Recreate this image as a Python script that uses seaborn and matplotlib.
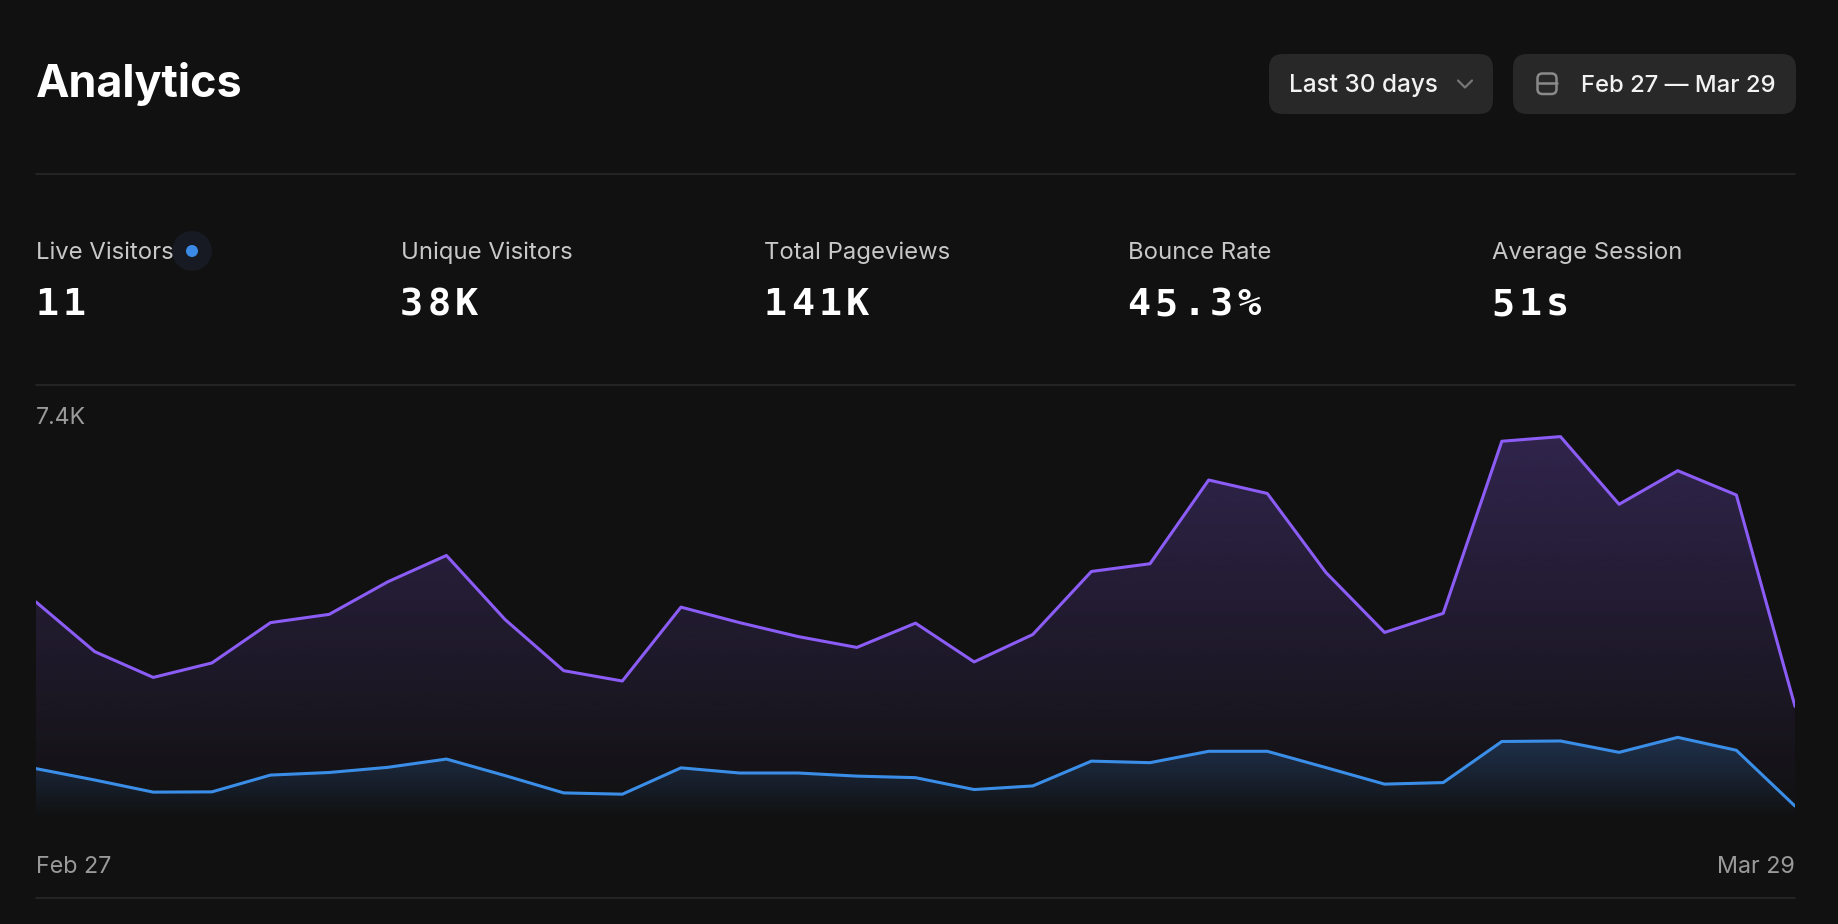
import numpy as np
import pandas as pd
import matplotlib.pyplot as plt
import seaborn as sns
from matplotlib.patches import FancyBboxPatch, Circle
from matplotlib.colors import to_rgb

# Data
dates = pd.date_range("2025-02-27", "2025-03-29", freq="D")
pageviews = [4200, 3240, 2740, 3020, 3800, 3960, 4590, 5100, 3860, 2870,
             2670, 4100, 3800, 3530, 3320, 3790, 3040, 3570, 4790, 4940,
             6560, 6300, 4770, 3610, 3980, 7310, 7400, 6090, 6740, 6270, 2180]
visitors = [975, 755, 520, 525, 850, 900, 1000, 1160, 840, 505,
            480, 990, 890, 890, 830, 800, 570, 640, 1120, 1090,
            1310, 1310, 995, 675, 705, 1500, 1510, 1290, 1580, 1330, 250]

stat_labels = ["Live Visitors", "Unique Visitors", "Total Pageviews", "Bounce Rate", "Average Session"]
stat_values = ["11", "38K", "141K", "45.3%", "51s"]
range_label = "Last 30 days"

# Styling
BG = "#111111"
PURPLE = "#8b5cf6"
BLUE = "#3b8ee8"
W, H = 1838, 924

sns.set_theme(style="dark")
plt.rcParams["font.family"] = ["Inter", "DejaVu Sans"]

df = pd.DataFrame({
    "day": np.tile(np.arange(len(dates)), 2),
    "value": pageviews + visitors,
    "series": ["Pageviews"] * len(dates) + ["Visitors"] * len(dates),
})


def gradient_fill(ax, x, y, color, top_alpha, zorder):
    """Fill under a line with a vertical fade to transparent."""
    poly = ax.fill_between(x, y, 0, facecolor="none", edgecolor="none")
    img = np.zeros((256, 1, 4))
    img[..., :3] = to_rgb(color)
    img[..., 3] = np.linspace(0, top_alpha, 256)[:, None]
    im = ax.imshow(img, aspect="auto", origin="lower", zorder=zorder,
                   extent=[x[0], x[-1], 0, max(y)], interpolation="bilinear")
    im.set_clip_path(poly.get_paths()[0], ax.transData)


def mono_text(ax, x, y, s, cell, **kw):
    """KPI value in a wide monospace: every glyph centred in a fixed cell."""
    for i, ch in enumerate(s):
        ax.text(x + (i + 0.5) * cell, y, ch, ha="center", va="baseline", **kw)


fig = plt.figure(figsize=(W / 100, H / 100), dpi=100, facecolor=BG)

# pixel-space overlay for the dashboard chrome
ui = fig.add_axes([0, 0, 1, 1])
ui.set_xlim(0, W)
ui.set_ylim(H, 0)
ui.axis("off")
ui.set_facecolor(BG)

ui.text(36, 96.7, "Analytics", size=32.3, weight="bold", color="white", va="baseline")

# range selector buttons
for x0, x1 in [(1269, 1493), (1513, 1796)]:
    ui.add_patch(FancyBboxPatch((x0, 54), x1 - x0, 60, boxstyle="round,pad=0,rounding_size=14",
                                facecolor="#282828", edgecolor="none"))
ui.text(1289, 92.3, range_label, size=17.5, weight="medium", color="#f2f2f2", va="baseline")
ui.plot([1458, 1465, 1472], [80.5, 87.5, 80.5], color="#777777", lw=1.6, solid_capstyle="round")
ui.add_patch(FancyBboxPatch((1537.5, 73.5), 19, 20.5, boxstyle="round,pad=0,rounding_size=5",
                            facecolor="none", edgecolor="#8a8a8a", lw=1.8))
ui.plot([1537.5, 1556.5], [82.5, 82.5], color="#8a8a8a", lw=1.8)
ui.text(1581, 92.3, f"{dates[0]:%b} {dates[0].day} \u2014 {dates[-1]:%b} {dates[-1].day}",
        size=17.2, weight="medium", color="#f2f2f2", va="baseline")

# divider lines
for yy in [173.5, 384.5, 897.7]:
    ui.plot([36, 1795], [yy, yy], color="#2a2a2a", lw=1.1)

# KPI row
for xx, lab, val in zip([36, 401, 764, 1128, 1492], stat_labels, stat_values):
    ui.text(xx, 259.3, lab, size=17.2, color="#c8c8c8", va="baseline")
    mono_text(ui, xx - 3, 315, val, 27.5, size=27.7, weight="bold",
              color="white", family="DejaVu Sans Mono")
ui.add_patch(Circle((192, 251), 20, facecolor="#171923", edgecolor="none"))
ui.add_patch(Circle((192, 251), 6, facecolor="#3b8ae6", edgecolor="none"))

# chart
ax = fig.add_axes([36 / W, 1 - 819 / H, (1795 - 36) / W, (819 - 400) / H])
ax.set_facecolor("none")
x = np.arange(len(dates))
gradient_fill(ax, x, pageviews, PURPLE, 0.26, 1)
gradient_fill(ax, x, visitors, BLUE, 0.24, 2)
sns.lineplot(data=df, x="day", y="value", hue="series", palette={"Pageviews": PURPLE, "Visitors": BLUE},
             legend=False, linewidth=2.2, errorbar=None, ax=ax, zorder=3)
ax.set_xlim(0, len(dates) - 1)
ax.set_ylim(0, max(pageviews) * 419 / 382.4)
ax.set_xticks([])
ax.set_yticks([])
ax.set_xlabel("")
ax.set_ylabel("")
ax.grid(False)
for s in ax.spines.values():
    s.set_visible(False)

ui.text(36, 424.4, f"{max(pageviews) / 1000:.1f}K", size=16.6, color="#9a9a9a", va="baseline")
ui.text(36, 872.7, f"{dates[0]:%b} {dates[0].day}", size=16.8, color="#9a9a9a", va="baseline")
ui.text(1795, 872.7, f"{dates[-1]:%b} {dates[-1].day}", size=16.8, color="#9a9a9a", va="baseline", ha="right")

fig.savefig("out.png", dpi=100, facecolor=BG)
